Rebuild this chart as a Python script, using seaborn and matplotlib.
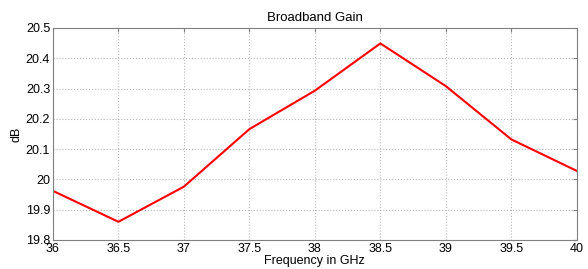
import pandas as pd
import matplotlib
matplotlib.use('Agg')
import matplotlib.pyplot as plt
import seaborn as sns

# Gain per frequency
freq_ghz = [36, 36.5, 37, 37.5, 38, 38.5, 39, 39.5, 40]
gain_db = [19.962, 19.860, 19.976, 20.166, 20.293, 20.449, 20.308, 20.132, 20.028]
x_ticks = [36, 36.5, 37, 37.5, 38, 38.5, 39, 39.5, 40]
y_ticks = [19.8, 19.9, 20, 20.1, 20.2, 20.3, 20.4, 20.5]

df = pd.DataFrame({'freq': freq_ghz, 'gain': gain_db})

sns.set_style('white')
plt.rcParams['font.family'] = ['Liberation Sans', 'DejaVu Sans']
plt.rcParams['text.color'] = 'black'
plt.rcParams['axes.labelcolor'] = 'black'

fig = plt.figure(figsize=(5.88, 2.69), dpi=100)
ax = fig.add_axes([0.090, 0.108, 0.891, 0.788])

sns.lineplot(data=df, x='freq', y='gain', color='#ff0000', linewidth=1.5, ax=ax)

ax.set_xlim(36, 40)
ax.set_ylim(19.8, 20.5)
ax.set_xticks(x_ticks)
ax.set_xticklabels([f'{v:g}' for v in x_ticks])
ax.set_yticks(y_ticks)
ax.set_yticklabels([f'{v:g}' for v in y_ticks])
ax.grid(True, linestyle=':', color='#b8b8b8', linewidth=0.8)
ax.tick_params(direction='in', length=3, color='#808080', labelcolor='black',
               labelsize=9, top=True, right=True, pad=2)
for s in ax.spines.values():
    s.set_color('#808080')
    s.set_linewidth(0.8)

ax.set_title('Broadband Gain', fontsize=9.5, pad=5, color='black')
ax.set_xlabel('Frequency in GHz', fontsize=9, labelpad=0)
ax.set_ylabel('dB', fontsize=9, labelpad=2)

plt.savefig('out.png', dpi=100)
plt.clf()
